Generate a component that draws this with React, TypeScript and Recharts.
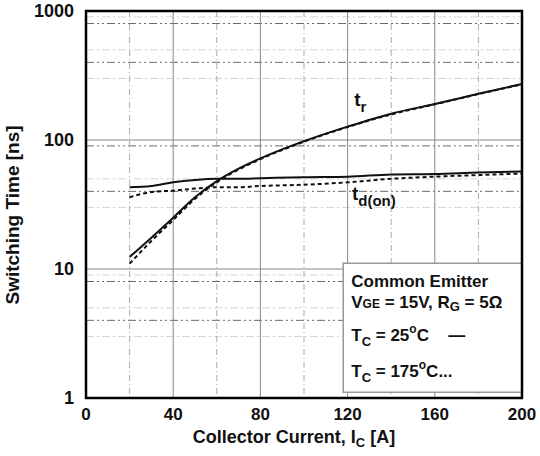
import React from "react";
import {
  CartesianGrid,
  Line,
  LineChart,
  ReferenceArea,
  ReferenceDot,
  XAxis,
  YAxis,
} from "recharts";

// collector current [A]
const currents = [20, 30, 40, 50, 60, 70, 80, 100, 120, 140, 160, 180, 200];
// rise time t_r [ns]
const tr25 = [12.4, 17.5, 25, 36, 48, 60, 72, 98, 127, 160, 190, 228, 272];
const tr175 = [11, 16.5, 24, 35, 47, 59, 71, 97, 126, 158, 189, 227, 270];
// turn-on delay t_d(on) [ns]
const td25 = [43, 44, 47, 49, 50, 50, 50.5, 51.5, 52, 54, 54.5, 56, 57];
const td175 = [36, 39.5, 40.5, 42, 43, 43, 44, 45, 47, 50, 52, 53.5, 55];

const xTicks = [0, 40, 80, 120, 160, 200];
const yTicks = [1, 10, 100, 1000];
const xMajorGrid = [40, 80, 120, 160];
const xMinorGrid = [20, 60, 100, 140, 180];
const yMajorGrid = [10, 100];
const yMinorDark = [4, 6, 7, 8, 40, 60, 70, 80, 90, 400, 600, 700, 800];
const yMinorFaint = [2, 3, 5, 9, 20, 30, 50, 200, 300, 500, 900];

const data = currents.map((ic, i) => ({
  ic,
  tr25: tr25[i],
  tr175: tr175[i],
  td25: td25[i],
  td175: td175[i],
}));

const FONT = "'Liberation Sans', Arial, sans-serif";

function LegendBox(props: any) {
  const { x, y } = props.viewBox;
  const tx = x + 8;
  return (
    <g fontFamily={FONT} fontWeight="bold" fill="#111" fontSize={17}>
      <text x={tx} y={y + 24}>Common Emitter</text>
      <text x={tx} y={y + 45}>
        V<tspan fontSize={12}>GE</tspan> = 15V, R
        <tspan fontSize={13} dy={3}>G</tspan>
        <tspan dy={-3}> = 5Ω</tspan>
      </text>
      <text x={tx} y={y + 78}>
        T<tspan fontSize={13} dy={5}>C</tspan>
        <tspan dy={-5}> = 25</tspan>
        <tspan fontSize={12} dy={-8}>o</tspan>
        <tspan dy={8}>C</tspan>
      </text>
      <text x={x + 105} y={y + 78}>—</text>
      <text x={tx} y={y + 114}>
        T<tspan fontSize={13} dy={5}>C</tspan>
        <tspan dy={-5}> = 175</tspan>
        <tspan fontSize={12} dy={-8}>o</tspan>
        <tspan dy={8}>C...</tspan>
      </text>
    </g>
  );
}

function TrLabel(props: any) {
  const { x, y } = props.viewBox;
  return (
    <text x={x} y={y} fontFamily={FONT} fontWeight="bold" fontSize={19} fill="#111">
      t<tspan fontSize={15} dy={6}>r</tspan>
    </text>
  );
}

function TdLabel(props: any) {
  const { x, y } = props.viewBox;
  return (
    <text x={x} y={y} fontFamily={FONT} fontWeight="bold" fontSize={19} fill="#111">
      t<tspan fontSize={15} dy={6}>d(on)</tspan>
    </text>
  );
}

function XLabel(props: any) {
  const { x, width } = props.viewBox;
  return (
    <text
      x={x + width / 2 - 10}
      y={443}
      textAnchor="middle"
      fontFamily={FONT}
      fontWeight="bold"
      fontSize={18}
      fill="#111"
    >
      Collector Current, I<tspan fontSize={13} dy={4}>C</tspan>
      <tspan dy={-4}> [A]</tspan>
    </text>
  );
}

function YLabel() {
  return (
    <text
      x={19}
      y={215}
      transform="rotate(-90, 19, 215)"
      textAnchor="middle"
      fontFamily={FONT}
      fontWeight="bold"
      fontSize={19}
      fill="#111"
    >
      Switching Time [ns]
    </text>
  );
}

const tickStyle = { fontFamily: FONT, fontWeight: "bold", fontSize: 17, fill: "#111" };

export default function App() {
  return (
    <div style={{ position: "absolute", left: 0, top: 0, background: "#fff" }}>
      <LineChart
        width={540}
        height={456}
        data={data}
        margin={{ top: 11, right: 18, bottom: 28, left: 0 }}
      >
        <CartesianGrid
          horizontalValues={yMinorFaint}
          vertical={false}
          stroke="#d4d4d4"
          strokeDasharray="8 3 2 3"
        />
        <CartesianGrid
          horizontalValues={yMinorDark}
          vertical={false}
          stroke="#6a6a6a"
          strokeDasharray="8 3 2 3 2 3"
        />
        <CartesianGrid
          verticalValues={xMinorGrid}
          horizontal={false}
          stroke="#aaa"
          strokeDasharray="6 3 1 3"
        />
        <CartesianGrid
          verticalValues={xMajorGrid}
          horizontalValues={yMajorGrid}
          stroke="#888"
        />
        <XAxis
          dataKey="ic"
          type="number"
          domain={[0, 200]}
          ticks={xTicks}
          height={30}
          tickSize={0}
          tickMargin={10}
          axisLine={false}
          tick={tickStyle}
          label={<XLabel />}
        />
        <YAxis
          type="number"
          scale="log"
          domain={[1, 1000]}
          allowDataOverflow
          ticks={yTicks}
          width={86}
          tickSize={0}
          tickMargin={12}
          axisLine={false}
          tick={{ ...tickStyle, fontSize: 18 }}
          label={<YLabel />}
        />
        <Line type="monotone" dataKey="tr25" stroke="#111" strokeWidth={2} dot={false} isAnimationActive={false} />
        <Line type="monotone" dataKey="tr175" stroke="#111" strokeWidth={2} strokeDasharray="4 3" dot={false} isAnimationActive={false} />
        <Line type="monotone" dataKey="td25" stroke="#111" strokeWidth={2} dot={false} isAnimationActive={false} />
        <Line type="monotone" dataKey="td175" stroke="#111" strokeWidth={2} strokeDasharray="4 3" dot={false} isAnimationActive={false} />
        <ReferenceDot x={123} y={184} r={0} stroke="none" fill="none" label={<TrLabel />} />
        <ReferenceDot x={122} y={34} r={0} stroke="none" fill="none" label={<TdLabel />} />
        <ReferenceArea
          x1={118}
          x2={200}
          y1={1.11}
          y2={11.1}
          fill="#fff"
          fillOpacity={1}
          stroke="#999"
          strokeWidth={1.5}
          label={<LegendBox />}
        />
        <ReferenceArea
          x1={0}
          x2={200}
          y1={1}
          y2={1000}
          fill="none"
          stroke="#000"
          strokeWidth={2.5}
        />
      </LineChart>
    </div>
  );
}
